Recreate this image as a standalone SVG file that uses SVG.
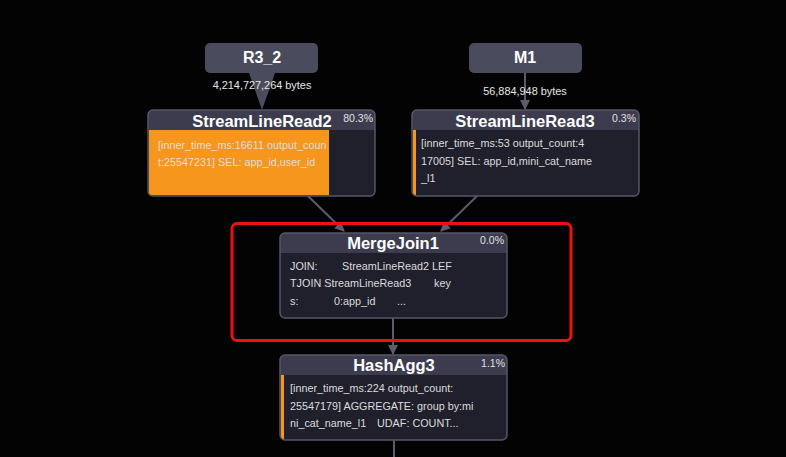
<svg xmlns="http://www.w3.org/2000/svg" width="786" height="457" viewBox="0 0 786 457">
<defs>
<style>
.src{fill:#4b4b5e;}
.hdr{fill:#3c3c4e;}
.body{fill:#20202c;}
.frame{fill:none;stroke:#56566a;stroke-width:1.5;}
.title{font-family:"Liberation Sans",Arial,sans-serif;font-weight:bold;font-size:16.5px;fill:#ffffff;text-anchor:middle;}
.stitle{font-family:"Liberation Sans",Arial,sans-serif;font-weight:bold;font-size:16px;fill:#ffffff;text-anchor:middle;}
.pct{font-family:"Liberation Sans",Arial,sans-serif;font-size:10.5px;fill:#e0e0e0;text-anchor:end;}
.txt{font-family:"Liberation Sans",Arial,sans-serif;font-size:10.8px;fill:#dcdcdc;}
.lbl{font-family:"Liberation Sans",Arial,sans-serif;font-size:10.9px;fill:#e6e6e6;text-anchor:middle;}
.edge{stroke:#5c5c6e;stroke-width:2;fill:none;}
.orange{fill:#f7961c;}
</style>
<marker id="arr" viewBox="0 0 10 10" refX="9" refY="5" markerWidth="5" markerHeight="5" orient="auto">
<path d="M0,0 L10,5 L0,10 z" fill="#5c5c6e"/>
</marker>
</defs>
<rect x="0" y="0" width="786" height="457" fill="#030303"/>

<g id="connectors">
<polygon points="249,73 275,73 262,110" fill="#4b4b5e"/>
<line class="edge" x1="525" y1="73" x2="525" y2="109" marker-end="url(#arr)"/>
<line class="edge" x1="308" y1="196" x2="344" y2="231" marker-end="url(#arr)"/>
<line class="edge" x1="477" y1="196" x2="441" y2="231" marker-end="url(#arr)"/>
<line class="edge" x1="393" y1="318" x2="393" y2="354" marker-end="url(#arr)"/>
<line class="edge" x1="394" y1="440" x2="394" y2="457"/>
<text class="lbl" x="262" y="89">4,214,727,264 bytes</text>
<text class="lbl" x="525" y="95">56,884,948 bytes</text>
</g>

<g id="R3_2">
<rect class="src" x="205" y="43" width="113" height="30" rx="5"/>
<text class="stitle" x="262" y="63">R3_2</text>
</g>

<g id="M1">
<rect class="src" x="469" y="43" width="113" height="30" rx="5"/>
<text class="stitle" x="525" y="63">M1</text>
</g>

<g id="StreamLineRead2">
<rect class="body" x="148" y="110" width="227" height="86" rx="5"/>
<path class="hdr" d="M153,110 H370 A5,5 0 0 1 375,115 V130 H148 V115 A5,5 0 0 1 153,110 Z"/>
<rect class="orange" x="149" y="130" width="180" height="65"/>
<rect class="frame" x="148" y="110" width="227" height="86" rx="5"/>
<text class="title" x="262" y="127">StreamLineRead2</text>
<text class="pct" x="373" y="122">80.3%</text>
<text class="txt" x="158" y="149">[inner_time_ms:16611 output_coun</text>
<text class="txt" x="158" y="166">t:25547231] SEL: app_id,user_id</text>
</g>

<g id="StreamLineRead3">
<rect class="body" x="412" y="110" width="227" height="86" rx="5"/>
<path class="hdr" d="M417,110 H634 A5,5 0 0 1 639,115 V130 H412 V115 A5,5 0 0 1 417,110 Z"/>
<rect class="orange" x="413" y="130" width="3" height="65"/>
<rect class="frame" x="412" y="110" width="227" height="86" rx="5"/>
<text class="title" x="525" y="127">StreamLineRead3</text>
<text class="pct" x="636" y="122">0.3%</text>
<text class="txt" x="421" y="147">[inner_time_ms:53 output_count:4</text>
<text class="txt" x="421" y="165">17005] SEL: app_id,mini_cat_name</text>
<text class="txt" x="421" y="182">_l1</text>
</g>

<g id="MergeJoin1">
<rect class="body" x="280" y="233" width="227" height="85" rx="5"/>
<path class="hdr" d="M285,233 H502 A5,5 0 0 1 507,238 V253 H280 V238 A5,5 0 0 1 285,233 Z"/>
<rect class="frame" x="280" y="233" width="227" height="85" rx="5"/>
<text class="title" x="393" y="249">MergeJoin1</text>
<text class="pct" x="504" y="244">0.0%</text>
<text class="txt" x="290" y="270">JOIN:</text>
<text class="txt" x="342" y="270">StreamLineRead2 LEF</text>
<text class="txt" x="290" y="287">TJOIN StreamLineRead3</text>
<text class="txt" x="434" y="287">key</text>
<text class="txt" x="290" y="305">s:</text>
<text class="txt" x="334" y="305">0:app_id</text>
<text class="txt" x="397" y="305">...</text>
</g>

<g id="highlight">
<rect x="232" y="223.5" width="339" height="117" rx="5" fill="none" stroke="#f01010" stroke-width="3"/>
</g>

<g id="HashAgg3">
<rect class="body" x="280" y="355" width="227" height="85" rx="5"/>
<path class="hdr" d="M285,355 H502 A5,5 0 0 1 507,360 V375 H280 V360 A5,5 0 0 1 285,355 Z"/>
<rect class="orange" x="281" y="375" width="3" height="64"/>
<rect class="frame" x="280" y="355" width="227" height="85" rx="5"/>
<text class="title" x="394" y="371">HashAgg3</text>
<text class="pct" x="505" y="367">1.1%</text>
<text class="txt" x="290" y="392">[inner_time_ms:224 output_count:</text>
<text class="txt" x="290" y="410">25547179] AGGREGATE: group by:mi</text>
<text class="txt" x="290" y="427">ni_cat_name_l1</text>
<text class="txt" x="377" y="427">UDAF: COUNT...</text>
</g>
</svg>
